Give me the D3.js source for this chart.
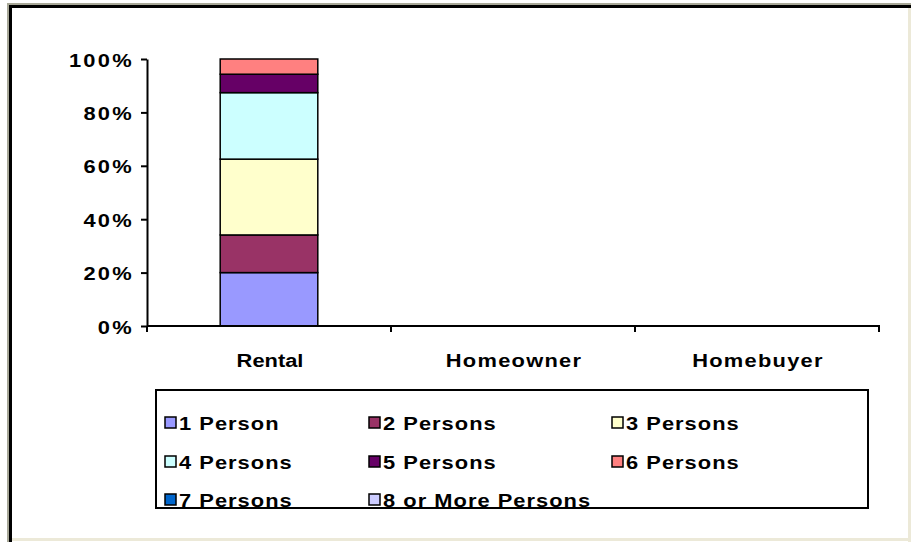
<!DOCTYPE html>
<html>
<head>
<meta charset="utf-8">
<script src="https://cdn.jsdelivr.net/npm/d3@7"></script>
<style>
  body { margin: 0; background: #fff; }
  svg text { font-family: "Liberation Sans", Arial, sans-serif; font-weight: bold; fill: #000; font-size: 19px; }
</style>
</head>
<body>
<svg id="chart" width="916" height="542"></svg>
<script>
// categories on the x axis
const categories = ['Rental', 'Homeowner', 'Homebuyer'];

// share of households (%) per category, one array per household size
const person1 = [20.0, 0, 0];
const person2 = [14.1, 0, 0];
const person3 = [28.4, 0, 0];
const person4 = [24.9, 0, 0];
const person5 = [6.9, 0, 0];
const person6 = [5.7, 0, 0];
const person7 = [0, 0, 0];
const person8 = [0, 0, 0];

const seriesNames = ['1 Person', '2 Persons', '3 Persons', '4 Persons',
    '5 Persons', '6 Persons', '7 Persons', '8 or More Persons'];
const seriesColors = ['#9999FF', '#993366', '#FFFFCC', '#CCFFFF',
    '#660066', '#FF8080', '#0066CC', '#CCCCFF'];

const yTicks = [0, 20, 40, 60, 80, 100];

// text in the original is a little wider than Arial
const stretch = 1.15;

const svg = d3.select('#chart');

// outer frame
svg.append('rect').attr('x', 7).attr('y', 3).attr('width', 904).attr('height', 2).attr('fill', '#A8A898');
svg.append('rect').attr('x', 7).attr('y', 3).attr('width', 2).attr('height', 539).attr('fill', '#A8A898');
svg.append('rect').attr('x', 9).attr('y', 5).attr('width', 902).attr('height', 3).attr('fill', '#000');
svg.append('rect').attr('x', 9).attr('y', 5).attr('width', 3).attr('height', 537).attr('fill', '#000');
svg.append('rect').attr('x', 908).attr('y', 8).attr('width', 3).attr('height', 534).attr('fill', '#ECE9D8');
svg.append('rect').attr('x', 12).attr('y', 538).attr('width', 899).attr('height', 3).attr('fill', '#ECE9D8');

// build table for stacking
const table = categories.map((c, i) => {
    let row = { category: c };
    [person1, person2, person3, person4, person5, person6, person7, person8]
        .forEach((arr, j) => { row[seriesNames[j]] = arr[i]; });
    return row;
});

const stacked = d3.stack().keys(seriesNames)(table);

const x = d3.scaleBand()
    .domain(categories)
    .range([147, 879]);

const y = d3.scaleLinear()
    .domain([0, 100])
    .range([326, 59]);

const barWidth = x.bandwidth() * 0.4;

// bars
stacked.forEach((layer, j) => {
    svg.append('g')
        .selectAll('rect')
        .data(layer.filter(d => d[1] - d[0] > 0))
        .enter()
        .append('rect')
        .attr('x', d => x(d.data.category) + (x.bandwidth() - barWidth) / 2)
        .attr('y', d => y(d[1]))
        .attr('width', barWidth)
        .attr('height', d => y(d[0]) - y(d[1]))
        .attr('fill', seriesColors[j])
        .attr('stroke', '#000')
        .attr('stroke-width', 1.5);
});

// y axis
const yAxis = svg.append('g')
    .attr('transform', 'translate(147,0)')
    .call(d3.axisLeft(y).tickValues(yTicks).tickFormat(d => d + '%').tickSize(6).tickSizeOuter(0));
yAxis.select('.domain').attr('stroke', '#000').attr('stroke-width', 2);
yAxis.selectAll('.tick line').attr('stroke', '#000').attr('stroke-width', 2);
yAxis.selectAll('.tick text')
    .attr('x', null).attr('dy', null)
    .attr('transform', `translate(-13,7) scale(${stretch},1)`)
    .style('font-size', '19px')
    .style('letter-spacing', '2px')
    .style('font-family', '"Liberation Sans", Arial, sans-serif')
    .style('font-weight', 'bold');

// x axis
const xAxis = svg.append('g').attr('transform', 'translate(0,326)');
xAxis.append('line')
    .attr('x1', 147).attr('x2', x.range()[1] + 1)
    .attr('y1', 0).attr('y2', 0)
    .attr('stroke', '#000').attr('stroke-width', 2);
const xTickPos = categories.map(c => x(c)).concat([x.range()[1]]);
xAxis.selectAll('.xtick')
    .data(xTickPos)
    .enter()
    .append('line')
    .attr('x1', d => d).attr('x2', d => d)
    .attr('y1', 0).attr('y2', 6)
    .attr('stroke', '#000').attr('stroke-width', 2);
xAxis.selectAll('.xlabel')
    .data(categories)
    .enter()
    .append('text')
    .attr('transform', d => `translate(${x(d) + x.bandwidth() / 2 + 1},41) scale(${stretch},1)`)
    .attr('text-anchor', 'middle')
    .style('letter-spacing', (d, i) => i === 0 ? '0px' : '1.1px')
    .text(d => d);

// legend
const legend = svg.append('g');
legend.append('rect')
    .attr('x', 156).attr('y', 390)
    .attr('width', 712).attr('height', 118)
    .attr('fill', '#fff').attr('stroke', '#000').attr('stroke-width', 2);

const legendCols = [165, 369, 612];
const legendRows = [423, 462, 500];
const items = legend.selectAll('.item')
    .data(seriesNames)
    .enter()
    .append('g')
    .attr('transform', (d, i) => `translate(${legendCols[i % 3]},${legendRows[Math.floor(i / 3)]})`);
items.append('rect')
    .attr('x', 0).attr('y', -6)
    .attr('width', 11).attr('height', 11)
    .attr('fill', (d, i) => seriesColors[i])
    .attr('stroke', '#000').attr('stroke-width', 1.5);
items.append('text')
    .attr('transform', `translate(14,7) scale(${stretch},1)`)
    .style('letter-spacing', '0.9px')
    .text(d => d);
</script>
</body>
</html>
